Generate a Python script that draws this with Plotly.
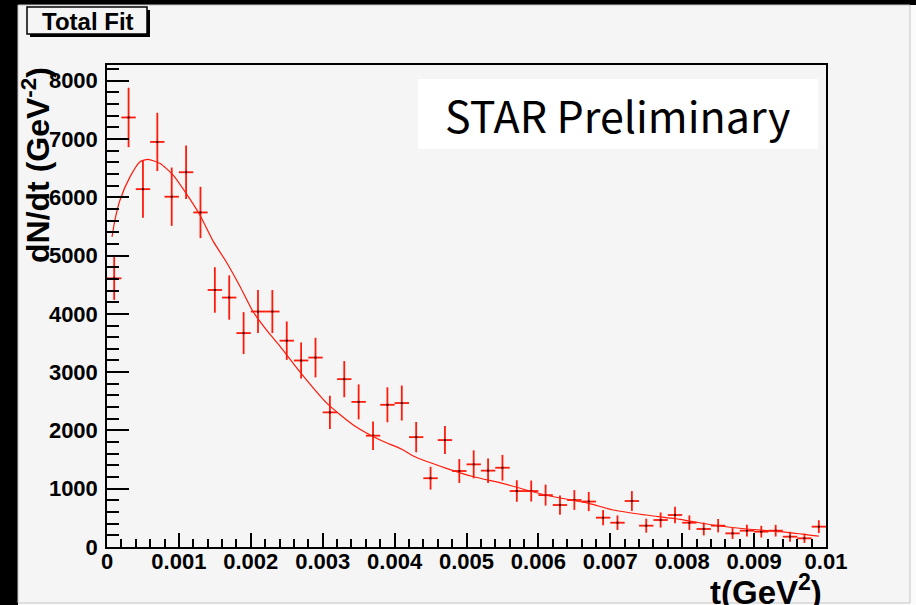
import plotly.graph_objects as go

# ---------------- data ----------------
t_centers = [0.0001, 0.0003, 0.0005, 0.0007, 0.0009, 0.0011, 0.0013, 0.0015, 0.0017, 0.0019,
             0.0021, 0.0023, 0.0025, 0.0027, 0.0029, 0.0031, 0.0033, 0.0035, 0.0037, 0.0039,
             0.0041, 0.0043, 0.0045, 0.0047, 0.0049, 0.0051, 0.0053, 0.0055, 0.0057, 0.0059,
             0.0061, 0.0063, 0.0065, 0.0067, 0.0069, 0.0071, 0.0073, 0.0075, 0.0077, 0.0079,
             0.0081, 0.0083, 0.0085, 0.0087, 0.0089, 0.0091, 0.0093, 0.0095, 0.0097, 0.0099]
dndt = [4610, 7370, 6140, 6950, 6010, 6430, 5740, 4410, 4280, 3670,
        4040, 4040, 3540, 3200, 3250, 2310, 2880, 2490, 1910, 2440,
        2470, 1885, 1180, 1835, 1304, 1418, 1310, 1360, 960, 960,
        890, 720, 806, 780, 503, 417, 789, 366, 463, 549,
        417, 309, 366, 234, 280, 263, 280, 177, 149, 349]
dndt_err = [370, 510, 490, 500, 500, 460, 440, 390, 380, 360,
            370, 370, 330, 310, 340, 285, 310, 300, 245, 300,
            300, 260, 195, 240, 205, 240, 210, 220, 185, 180,
            180, 165, 170, 165, 130, 125, 170, 120, 130, 140,
            125, 110, 115, 95, 100, 100, 100, 85, 80, 110]
t_halfwidth = [0.0001] * len(t_centers)

fit_t = [0.00007, 0.00011, 0.00018, 0.00032, 0.00046, 0.00057, 0.00074, 0.00092, 0.00111, 0.00129,
         0.00148, 0.00166, 0.00185, 0.00203, 0.00222, 0.00241, 0.00268, 0.00306, 0.00343, 0.0038,
         0.0041, 0.00426, 0.00472, 0.0051, 0.0055, 0.0061, 0.0067, 0.00704, 0.0075, 0.00797,
         0.00843, 0.0089, 0.00936, 0.0099]
fit_v = [5320, 5610, 5950, 6350, 6610, 6650, 6580, 6380, 6050, 5700,
         5240, 4890, 4470, 4040, 3720, 3440, 3010, 2465, 2090, 1835,
         1676, 1560, 1350, 1206, 1092, 892, 749, 635, 549, 475,
         377, 309, 263, 185]

x_tickvals = [0, 0.001, 0.002, 0.003, 0.004, 0.005, 0.006, 0.007, 0.008, 0.009, 0.01]
x_ticktext = ["0", "0.001", "0.002", "0.003", "0.004", "0.005", "0.006", "0.007", "0.008", "0.009", "0.01"]
y_tickvals = [0, 1000, 2000, 3000, 4000, 5000, 6000, 7000, 8000]
y_ticktext = ["0", "1000", "2000", "3000", "4000", "5000", "6000", "7000", "8000"]

# ---------------- layout geometry ----------------
W, H = 916, 605
L, R, T, B = 107, 826, 65, 547   # plot area in pixels


def px(x):
    return (x - L) / (R - L)


def py(y):
    return (B - y) / (B - T)


BOLD = "Liberation Sans"
RED = "#ff1a0a"

fig = go.Figure()
fig.add_trace(go.Scatter(
    x=t_centers, y=dndt, mode="markers",
    marker=dict(symbol="square", size=2, color="#300000", line=dict(width=0)),
    error_x=dict(type="data", array=t_halfwidth, color=RED, thickness=1.8, width=0),
    error_y=dict(type="data", array=dndt_err, color=RED, thickness=1.8, width=0),
    hoverinfo="x+y", showlegend=False,
))
fig.add_trace(go.Scatter(
    x=fit_t, y=fit_v, mode="lines", line=dict(color=RED, width=1.2, shape="spline", smoothing=0.6),
    hoverinfo="skip", showlegend=False,
))

shapes = [
    # canvas
    dict(type="rect", xref="paper", yref="paper", x0=px(18), x1=px(916), y0=py(5), y1=py(605),
         fillcolor="#fbfbfb", line=dict(width=0), layer="below"),
    dict(type="rect", xref="paper", yref="paper", x0=px(18), x1=px(910), y0=py(5), y1=py(603),
         fillcolor="#f5f5f5", line=dict(color="#c4c4c4", width=1), layer="below"),
    # Total Fit box shadow + box
    dict(type="rect", xref="paper", yref="paper", x0=px(30), x1=px(150), y0=py(10), y1=py(37),
         fillcolor="#000000", line=dict(width=0), layer="above"),
    dict(type="rect", xref="paper", yref="paper", x0=px(27), x1=px(147), y0=py(7), y1=py(34),
         fillcolor="#f5f5f5", line=dict(color="#000000", width=1.5), layer="above"),
    # STAR box
    dict(type="rect", xref="paper", yref="paper", x0=px(418), x1=px(818), y0=py(79), y1=py(149),
         fillcolor="#ffffff", line=dict(width=0), layer="above"),
]

annotations = [
    dict(text="STAR Preliminary", xref="paper", yref="paper", x=px(617), y=py(114),
         xanchor="center", yanchor="middle", showarrow=False,
         font=dict(family="Noto Sans CJK JP", size=43, color="#000000")),
    dict(text="Total Fit", xref="paper", yref="paper", x=px(88), y=py(21),
         xanchor="center", yanchor="middle", showarrow=False,
         font=dict(family=BOLD, size=24, color="#000000", weight="bold")),
    dict(text="dN/dt (GeV<sup>-2</sup>)", xref="paper", yref="paper", x=px(36), y=py(165),
         xanchor="center", yanchor="middle", showarrow=False, textangle=-90,
         font=dict(family=BOLD, size=32, color="#000000", weight="bold")),
    dict(text="t(GeV<sup>2</sup>)", xref="paper", yref="paper", x=px(824), y=py(567),
         xanchor="right", yanchor="top", showarrow=False,
         font=dict(family=BOLD, size=33, color="#000000", weight="bold")),
]

fig.update_layout(
    width=W, height=H, autosize=False,
    margin=dict(l=L, r=W - R, t=T, b=H - B, pad=0),
    paper_bgcolor="#000000", plot_bgcolor="#f5f5f5",
    shapes=shapes, annotations=annotations, showlegend=False,
    xaxis=dict(range=[0, 0.01], showgrid=False, zeroline=False,
               showline=True, linecolor="#000000", linewidth=1.5, mirror=True,
               ticks="inside", ticklen=14, tickwidth=1.5, tickcolor="#000000",
               tickvals=x_tickvals, ticktext=x_ticktext, ticklabelstandoff=-6,
               tickfont=dict(family=BOLD, size=22, color="#000000", weight="bold"),
               minor=dict(ticks="inside", dtick=0.0002, ticklen=8, tickwidth=1.5, tickcolor="#000000",
                          showgrid=False)),
    yaxis=dict(range=[0, 8270], showgrid=False, zeroline=False,
               showline=True, linecolor="#000000", linewidth=1.5, mirror=True,
               ticks="inside", ticklen=22, tickwidth=1.5, tickcolor="#000000",
               tickvals=y_tickvals, ticktext=y_ticktext, ticklabelstandoff=3,
               tickfont=dict(family=BOLD, size=22, color="#000000", weight="bold"),
               minor=dict(ticks="inside", dtick=200, ticklen=12, tickwidth=1.5, tickcolor="#000000",
                          showgrid=False)),
)

fig.write_html("out.html")
